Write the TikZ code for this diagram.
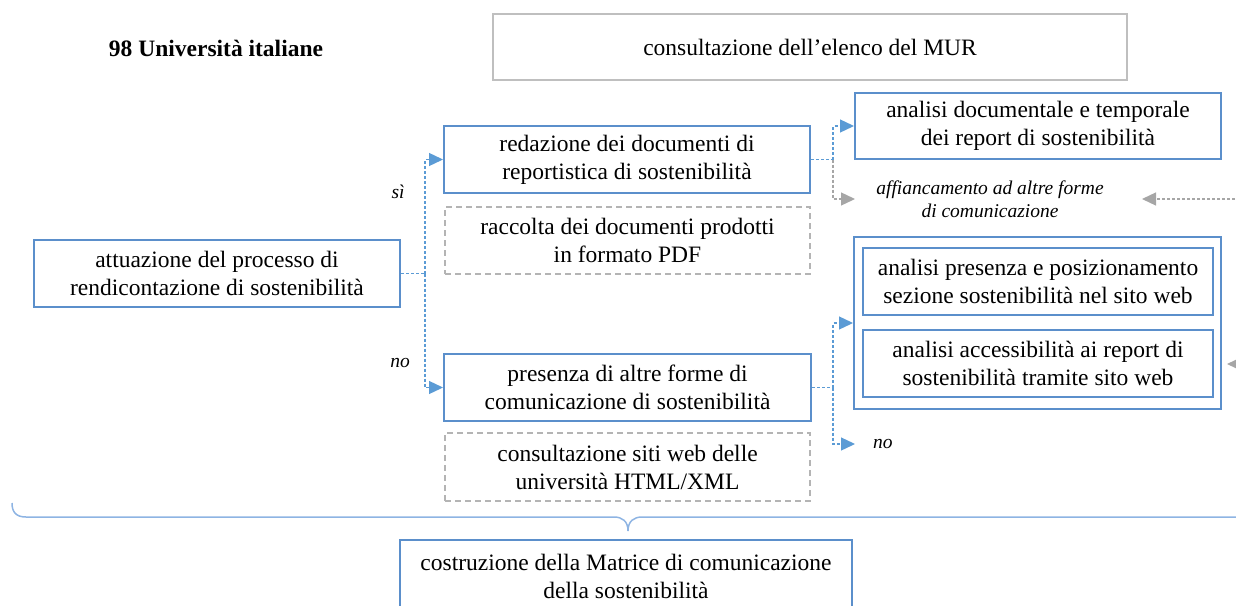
\documentclass[tikz,border=0pt]{standalone}
\usepackage{fontspec}
\setmainfont{Liberation Serif}
\usetikzlibrary{arrows.meta}
\definecolor{bxblue}{HTML}{5B8FCB}
\definecolor{cblue}{HTML}{5B9BD5}
\definecolor{gdash}{HTML}{B4B4B4}
\definecolor{mgray}{HTML}{BFBFBF}
\definecolor{agray}{HTML}{A6A6A6}
\definecolor{brblue}{HTML}{8EB4E3}
\newcommand{\mainsz}{\fontsize{23.5}{28}\selectfont}
\newcommand{\itsz}{\fontsize{19.5}{23}\selectfont\itshape}
\begin{document}
\begin{tikzpicture}[x=1pt,y=-1pt,
  bbox/.style={draw=bxblue, line width=2pt, align=center, inner sep=0pt, font=\mainsz},
  gbox/.style={draw=gdash, line width=1.6pt, dash pattern=on 6pt off 4pt, align=center, inner sep=0pt, font=\mainsz},
  mbox/.style={draw=mgray, line width=2pt, align=center, inner sep=0pt, font=\mainsz},
  cline/.style={draw=cblue, line width=1.3pt, dash pattern=on 3pt off 2pt},
  conn/.style={cline, -{Triangle[length=14pt,width=13pt]}},
  gconn/.style={draw=agray, line width=1.3pt, dash pattern=on 3pt off 2pt, -{Triangle[length=14pt,width=13pt]}},
  lbl/.style={font=\itsz, inner sep=0pt, align=center}]
\useasboundingbox (0,0) rectangle (1236,605);
\clip (0,0) rectangle (1236,605);
% nodes
\node[font=\mainsz\bfseries, inner sep=0pt] (uni) at (216,48) {98 Università italiane};
\node[mbox, minimum width=634, minimum height=66] (mur) at (810,47) {consultazione dell’elenco del MUR};
\node[bbox, minimum width=366, minimum height=67] (att) at (217,273.5) {attuazione del processo di\\rendicontazione di sostenibilità};
\node[bbox, minimum width=366, minimum height=67] (red) at (627,159.5) {redazione dei documenti di\\reportistica di sostenibilità};
\node[gbox, minimum width=365, minimum height=67] (rac) at (627.5,240.5) {raccolta dei documenti prodotti\\in formato PDF};
\node[bbox, minimum width=367, minimum height=67] (pres) at (627.5,387.5) {presenza di altre forme di\\comunicazione di sostenibilità};
\node[gbox, minimum width=365, minimum height=68] (cons) at (627.5,467) {consultazione siti web delle\\università HTML/XML};
\node[bbox, minimum width=366, minimum height=66] (ana1) at (1038,126) {analisi documentale e temporale\\dei report di sostenibilità};
\node[bbox, minimum width=367, minimum height=172] (outer) at (1037.5,323) {};
\node[bbox, minimum width=350, minimum height=67] (in1) at (1038,281.5) {analisi presenza e posizionamento\\sezione sostenibilità nel sito web};
\node[bbox, minimum width=350, minimum height=67] (in2) at (1038,363.5) {analisi accessibilità ai report di\\sostenibilità tramite sito web};
\node[bbox, minimum width=452, minimum height=73] (bot) at (626,576.5) {costruzione della Matrice di comunicazione\\della sostenibilità};
\node[lbl] (si) at (398,192) {sì};
\node[lbl] (no1) at (400,363) {no};
\node[lbl] (aff) at (990,199) {affiancamento ad altre forme\\di comunicazione};
\node[lbl, anchor=west] (no2) at (873,444) {no};
% junctions and tips
\coordinate (j1) at (425,273.5);
\coordinate (j2) at (833,159.5);
\coordinate (j3) at (833,387.5);
\coordinate (afftipL) at (855,199);
\coordinate (afftipR) at (1142,199);
\coordinate (re1) at (1240,199);
\coordinate (re2) at (1252,364);
\coordinate (re2tip) at (1227,364);
\coordinate (notip) at (855,444);
% connectors
\draw[cline] (att.east) -- (j1);
\draw[conn] (j1) |- (red.west);
\draw[conn] (j1) |- (pres.west);
\draw[cline] (red.east) -- (j2);
\draw[conn] (j2) |- (ana1.west);
\draw[gconn] (j2) |- (afftipL);
\draw[gconn] (re1) -- (afftipR);
\draw[cline] (pres.east) -- (j3);
\draw[conn] (j3) |- (outer.west);
\draw[conn] (j3) |- (notip);
\draw[gconn] (re2) -- (re2tip);
% brace
\draw[brblue, line width=1.5pt] (12,503) .. controls (12,512) and (16,517) .. (26,517) -- (614,517) .. controls (622,517) and (628,521) .. (628,531) .. controls (628,521) and (634,517) .. (642,517) -- (1250,517);
\end{tikzpicture}
\end{document}
